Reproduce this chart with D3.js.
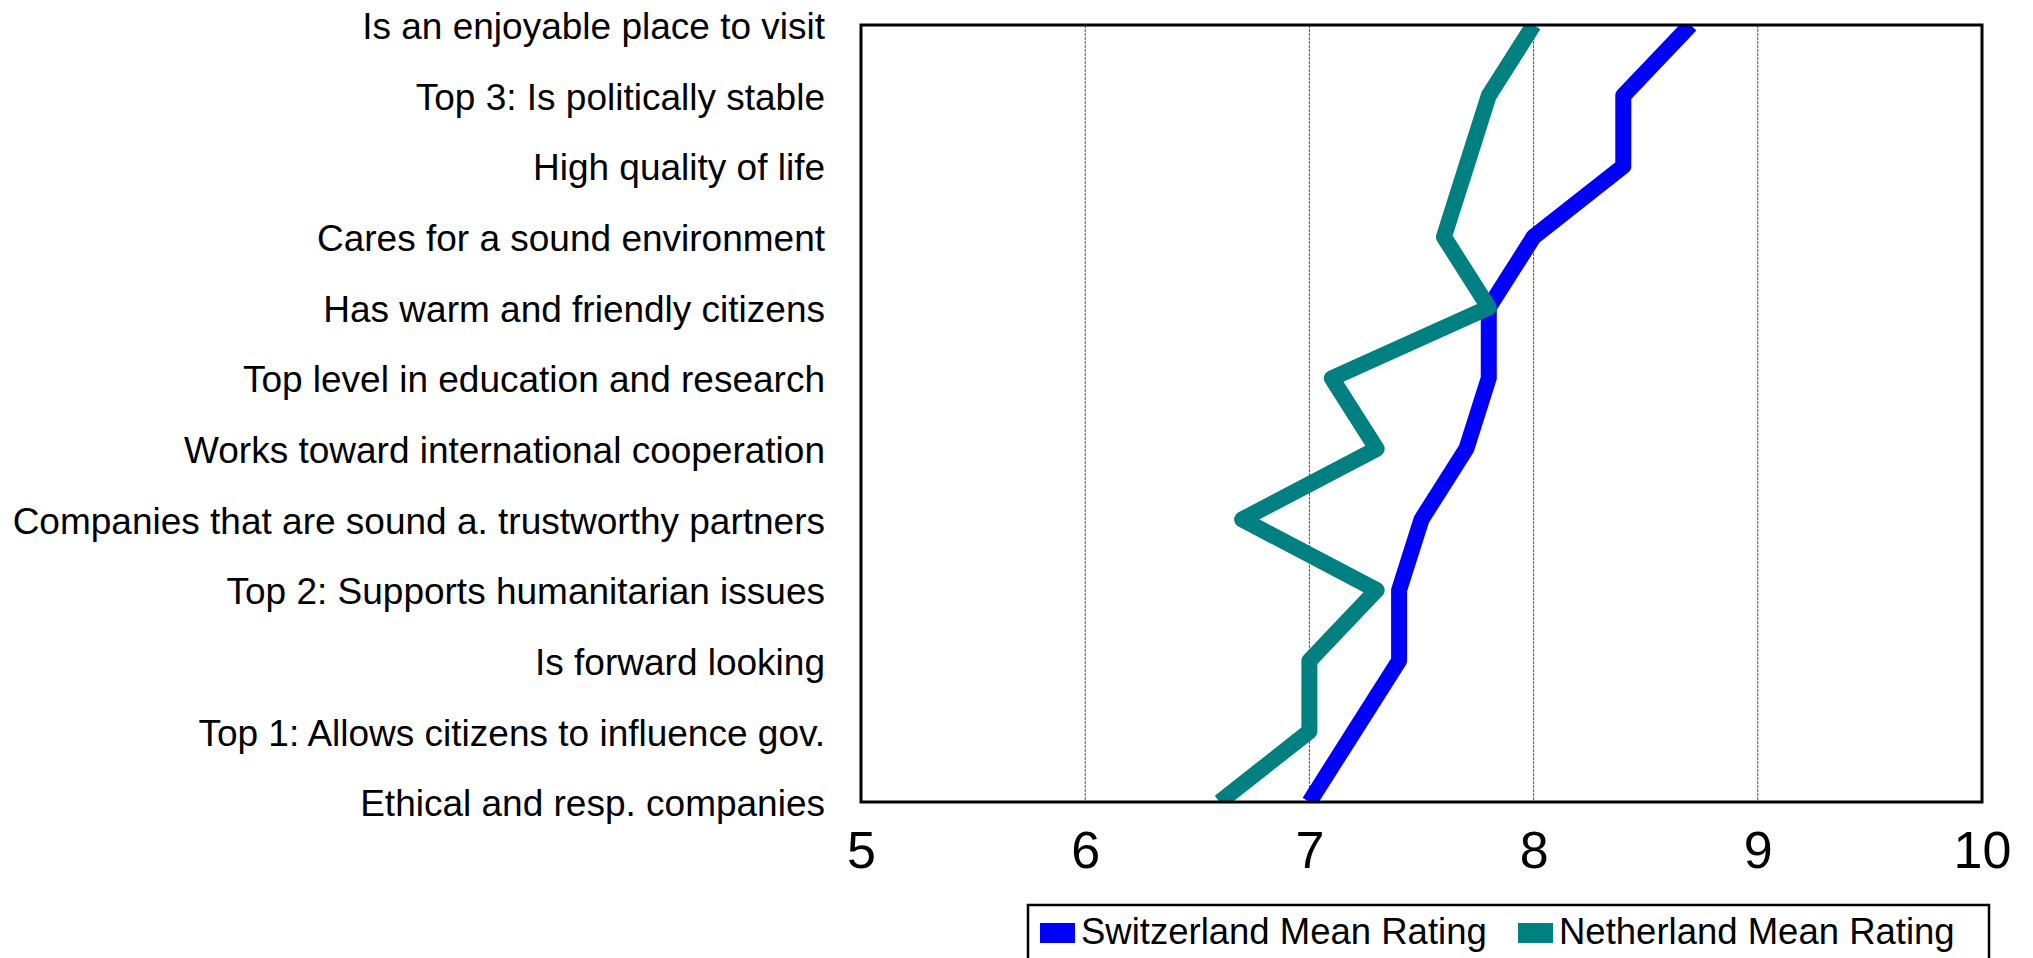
<!DOCTYPE html>
<html>
<head>
<meta charset="utf-8">
<script src="https://cdn.jsdelivr.net/npm/d3@7"></script>
<style>
  body { margin: 0; background: #fff; }
  svg { display: block; font-family: "Liberation Sans", Arial, sans-serif; }
</style>
</head>
<body>
<script>

let categories = [
    "Is an enjoyable place to visit",
    "Top 3: Is politically stable",
    "High quality of life",
    "Cares for a sound environment",
    "Has warm and friendly citizens",
    "Top level in education and research",
    "Works toward international cooperation",
    "Companies that are sound a. trustworthy partners",
    "Top 2: Supports humanitarian issues",
    "Is forward looking",
    "Top 1: Allows citizens to influence gov.",
    "Ethical and resp. companies"
]

let switzerland = [8.7, 8.4, 8.4, 8.0, 7.8, 7.8, 7.7, 7.5, 7.4, 7.4, 7.2, 7.0]
let netherland  = [8.0, 7.8, 7.7, 7.6, 7.8, 7.1, 7.3, 6.7, 7.3, 7.0, 7.0, 6.6]

let xTicks = [5, 6, 7, 8, 9, 10]
let gridTicks = [6, 7, 8, 9]

let seriesNames = ["Switzerland Mean Rating", "Netherland Mean Rating"]
let seriesColors = ["#0000ff", "#008080"]

let w = 2033
let h = 958
let plotL = 861, plotR = 1982, plotT = 25, plotB = 802

let svg = d3.select("body")
            .append("svg")
                .attr("width", w)
                .attr("height", h)

let x = d3.scaleLinear()
            .domain([5, 10])
            .range([plotL, plotR])

let y = d3.scalePoint()
            .domain(categories)
            .range([plotT, plotB])

// clip so the thick lines end flat at the frame
svg.append("clipPath")
    .attr("id", "plotClip")
    .append("rect")
        .attr("x", plotL)
        .attr("y", plotT)
        .attr("width", plotR - plotL)
        .attr("height", plotB - plotT)

// dashed grid lines
svg.append("g")
    .selectAll("line")
    .data(gridTicks)
    .enter()
    .append("line")
        .attr("x1", d => x(d))
        .attr("x2", d => x(d))
        .attr("y1", plotT)
        .attr("y2", plotB)
        .attr("stroke", "#555")
        .attr("stroke-width", 1)
        .attr("stroke-dasharray", "3,1")

let series = [switzerland, netherland]

let line = d3.line()
            .x(d => x(d.v))
            .y(d => y(d.c))

svg.append("g")
    .attr("clip-path", "url(#plotClip)")
    .selectAll("path")
    .data(series)
    .enter()
    .append("path")
        .attr("d", s => line(s.map((v, i) => ({v: v, c: categories[i]}))))
        .attr("fill", "none")
        .attr("stroke", (d, i) => seriesColors[i])
        .attr("stroke-width", 16)
        .attr("stroke-linejoin", "round")

// plot frame
svg.append("rect")
    .attr("x", plotL)
    .attr("y", plotT)
    .attr("width", plotR - plotL)
    .attr("height", plotB - plotT)
    .attr("fill", "none")
    .attr("stroke", "#000")
    .attr("stroke-width", 3)

// x axis
let xAxis = svg.append("g")
                .attr("transform", "translate(0," + plotB + ")")
                .call(d3.axisBottom(x).tickValues(xTicks).tickSize(0).tickFormat(d3.format("d")))

xAxis.select(".domain").remove()
xAxis.selectAll("text")
    .attr("y", 66)
    .attr("dy", 0)
    .attr("font-size", "52px")
    .attr("font-family", "Liberation Sans, Arial, sans-serif")
    .attr("fill", "#000")

// y axis
let yAxis = svg.append("g")
                .attr("transform", "translate(" + plotL + ",0)")
                .call(d3.axisLeft(y).tickSize(0).tickPadding(36))

yAxis.select(".domain").remove()
yAxis.selectAll("text")
    .attr("dy", "0.37em")
    .attr("font-size", "37px")
    .attr("font-family", "Liberation Sans, Arial, sans-serif")
    .attr("fill", "#000")

// legend
let legend = svg.append("g")

legend.append("rect")
    .attr("x", 1028)
    .attr("y", 905)
    .attr("width", 1989 - 1028)
    .attr("height", 80)
    .attr("fill", "#fff")
    .attr("stroke", "#000")
    .attr("stroke-width", 2.5)

let legendX = [1040, 1518]

let item = legend.selectAll("g.item")
                .data(seriesNames)
                .enter()
                .append("g")
                    .attr("class", "item")
                    .attr("transform", (d, i) => "translate(" + legendX[i] + ",0)")

item.append("rect")
    .attr("x", 0)
    .attr("y", 923)
    .attr("width", 35)
    .attr("height", 20)
    .attr("fill", (d, i) => seriesColors[i])

item.append("text")
    .text(d => d)
    .attr("x", 41)
    .attr("y", 944)
    .attr("font-size", "36.5px")
    .attr("fill", "#000")

</script>
</body>
</html>
